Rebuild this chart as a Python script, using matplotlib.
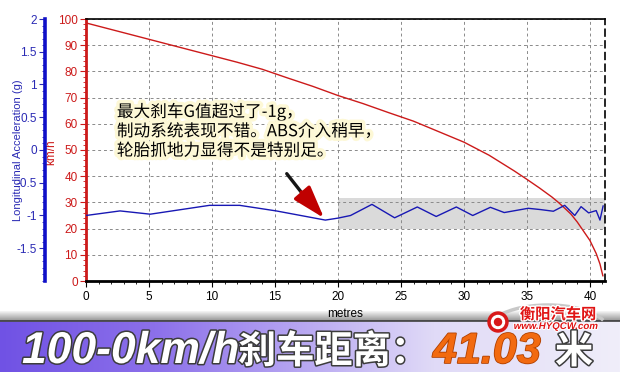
import numpy as np
import matplotlib
matplotlib.use("Agg")
import matplotlib.pyplot as plt
import matplotlib.patheffects as pe
from matplotlib.ticker import AutoMinorLocator, MultipleLocator
from matplotlib.patches import Circle, Arc

# ---------------- data ----------------
speed_dist = [0, 2, 4, 6, 8, 10, 12, 14, 16, 18, 20, 22, 24, 26, 28, 30, 32, 33, 34,
              35, 36, 37, 37.5, 38, 38.5, 39, 39.5, 40, 40.5, 40.8, 41.03]
speed_kmh = [98.5, 96, 93.5, 91, 88.5, 86, 83.5, 80.8, 77.5, 74.3, 70.8, 67.7, 64.3, 61,
             57, 53, 48, 45, 42, 38.8, 35.5, 32, 30, 27.8, 25.5, 22.5, 19, 15.5, 10.5, 6.5, 2]

acc_dist = [0, 2.7, 5.1, 9.8, 12.2, 15.1, 19.0, 20.0, 21.0, 22.7, 24.5, 26.3, 27.8, 29.4,
            30.7, 32.1, 33.2, 35.1, 36.1, 37.1, 38.0, 38.8, 39.3, 39.9, 40.5, 40.8, 41.05]
acc_g = [-1.00, -0.93, -0.98, -0.845, -0.845, -0.93, -1.07, -1.04, -1.00, -0.83, -1.035,
         -0.87, -1.015, -0.87, -1.00, -0.875, -0.955, -0.89, -0.91, -0.935, -0.845, -1.00,
         -0.865, -0.96, -0.925, -1.07, -0.855]

band_x = [20, 41.2]
band_low = 20
band_high = 31.5

x_ticks = [0, 5, 10, 15, 20, 25, 30, 35, 40]
kmh_ticks = [0, 10, 20, 30, 40, 50, 60, 70, 80, 90, 100]
g_ticks = [2, 1.5, 1, 0.5, 0, -0.5, -1, -1.5]
g_labels = ["2", "1.5", "1", "0.5", "0", "-0.5", "-1", "-1.5"]

note_text = "最大刹车G值超过了-1g，\n制动系统表现不错。ABS介入稍早，\n轮胎抓地力显得不是特别足。"
title_a = "100-0km/h"
title_b = "刹车距离："
title_c = "41.03"
title_d = "米"
logo_cn = "衡阳汽车网"
logo_en = "www.HYQCW.com"

RED = "#cc1a1a"
BLUE = "#1818b4"
W, H = 620, 372

plt.rcParams['font.family'] = ['Liberation Sans', 'DejaVu Sans']
fig = plt.figure(figsize=(6.2, 3.72), dpi=100)
fig.patch.set_facecolor("white")

# ---------------- banner ----------------
bax = fig.add_axes([0, 0, 1, 52 / H])
xs = np.linspace(0, 1, 620)
stops_x = [0, 0.25, 0.5, 0.7, 1.0]
stops_c = np.array([[112, 82, 228], [140, 112, 234], [186, 170, 242], [224, 218, 247], [240, 238, 250]]) / 255
grad = np.stack([np.interp(xs, stops_x, stops_c[:, k]) for k in range(3)], axis=-1)[None, :, :]
bax.imshow(grad, aspect="auto", extent=[0, 1, 0, 1])
bax.axhline(1.0, color="#4a4a4a", lw=2.0)
bax.set_xlim(0, 1); bax.set_ylim(0, 1)
bax.axis("off")

sax = fig.add_axes([0, 52 / H, 1, 9 / H])
shade = np.linspace(0.62, 1.0, 20)[:, None] * np.ones((20, 3))
sax.imshow(shade[:, None, :].repeat(2, axis=1), aspect="auto", extent=[0, 1, 0, 1], origin="lower")
sax.axis("off")

outline = [pe.Stroke(linewidth=2.2, foreground="#3c3c3c"), pe.Normal()]
by = (H - 363) / H
fig.text(22 / W, by, title_a, color="white", fontsize=32, fontweight="bold", fontstyle="italic",
         family=["Liberation Sans", "DejaVu Sans"], va="baseline", ha="left", path_effects=outline)
fig.text(238 / W, by, title_b, color="white", fontsize=27.5, fontweight="bold",
         family=["Noto Sans CJK SC", "DejaVu Sans"], va="baseline", ha="left", path_effects=outline)
fig.text(433 / W, by, title_c, color="#f26a10", fontsize=31, fontweight="bold", fontstyle="italic",
         family=["Liberation Sans", "DejaVu Sans"], va="baseline", ha="left",
         path_effects=[pe.Stroke(linewidth=1.2, foreground="#b04000"), pe.Normal()])
fig.text(555 / W, by, title_d, color="white", fontsize=27.5, fontweight="bold",
         family=["Noto Sans CJK SC", "DejaVu Sans"], va="baseline", ha="left", path_effects=outline)

# ---------------- main chart ----------------
ax = fig.add_axes([86 / W, 1 - 281 / H, (605 - 86) / W, (281 - 19) / H])
ax.set_xlim(0, 41.2)
ax.set_ylim(0, 100)
ax.set_axisbelow(True)
ax.grid(True, ls=(0, (3, 3)), color="#8a8a8a", lw=0.7)
ax.fill_between(band_x, band_low, band_high, color="#dadada", lw=0, zorder=0.3)
ax.plot(speed_dist, speed_kmh, color=RED, lw=1.0, zorder=3)

ax.set_xticks(x_ticks)
ax.set_yticks(kmh_ticks)
ax.xaxis.set_minor_locator(MultipleLocator(1))
ax.yaxis.set_minor_locator(AutoMinorLocator(5))
ax.tick_params(axis="x", labelsize=8.5, colors="black", direction="out", length=4, width=0.8, pad=3)
ax.tick_params(axis="x", which="minor", direction="out", length=2, width=0.6)
ax.tick_params(axis="y", labelsize=8.5, colors=RED, direction="out", length=4, width=0.8, pad=2)
ax.tick_params(axis="y", which="minor", colors=RED, direction="out", length=2, width=0.6)
ax.spines["left"].set_color(RED)
ax.spines["left"].set_linewidth(2.0)
ax.spines["bottom"].set_color("black")
ax.spines["bottom"].set_linewidth(2.0)
ax.spines["top"].set_color("black")
ax.spines["top"].set_linewidth(1.2)
ax.spines["right"].set_color("black")
ax.spines["right"].set_linestyle((0, (4, 3)))
ax.spines["right"].set_linewidth(1.2)
ax.set_xlabel("metres", fontsize=8.5, labelpad=4)
ax.set_ylabel("km/h", color=RED, fontsize=8.5)
ax.yaxis.set_label_coords(-0.056, 0.49)

# annotation note and arrow
ax.text(2.45, 68.0, note_text, fontsize=12, color="black", va="top", ha="left", linespacing=1.18,
        family=["Noto Sans CJK SC", "DejaVu Sans"], zorder=6,
        path_effects=[pe.withStroke(linewidth=5, foreground="#fdf8d6")])
ax.annotate("", xy=(17.4, 32.0), xytext=(15.8, 41.8),
            arrowprops=dict(arrowstyle="-", color="#151515", lw=2.4), zorder=6)
ax.annotate("", xy=(18.9, 24.0), xytext=(17.1, 34.0),
            arrowprops=dict(arrowstyle="-|>,head_length=1.0,head_width=0.32", mutation_scale=20,
                            color="#c00000", lw=2.4, shrinkA=0, shrinkB=0), zorder=6)

# acceleration axis
ax2 = ax.twinx()
ax2.set_ylim(-2, 2)
ax2.plot(acc_dist, acc_g, color=BLUE, lw=1.0, zorder=4)
ax2.spines["right"].set_visible(False)
ax2.spines["top"].set_visible(False)
ax2.spines["bottom"].set_visible(False)
ax2.spines["left"].set_visible(True)
ax2.spines["left"].set_position(("outward", 41 * 0.72))
ax2.spines["left"].set_color("#1010c8")
ax2.spines["left"].set_linewidth(2.6)
ax2.yaxis.tick_left()
ax2.yaxis.set_label_position("left")
ax2.set_yticks(g_ticks)
ax2.set_yticklabels(g_labels)
ax2.yaxis.set_minor_locator(AutoMinorLocator(5))
ax2.tick_params(axis="y", labelsize=8.5, colors="#2a2ab4", direction="out", length=4, width=0.8, pad=2)
ax2.tick_params(axis="y", which="minor", colors="#2a2ab4", direction="out", length=2, width=0.6)
ax2.set_ylabel("Longitudinal Acceleration (g)", color="#2a2ab4", fontsize=8)
ax2.yaxis.set_label_coords(-0.121, 0.5)

# ---------------- logo ----------------
lax = fig.add_axes([0, 0, 1, 1], facecolor="none")
lax.set_xlim(0, W); lax.set_ylim(H, 0)
lax.axis("off")
lax.add_patch(Arc((548, 330), 120, 50, theta1=190, theta2=350, color="#c8c8c8", lw=2.5))
lax.add_patch(Circle((498, 322), 10, color="#d81818"))
lax.add_patch(Circle((498, 322), 6.5, color="white"))
lax.add_patch(Circle((498, 322), 3.5, color="#d81818"))
lax.text(558, 314, logo_cn, color="#e01414", fontsize=11, fontweight="bold", ha="center", va="center",
         family=["Noto Sans CJK SC", "DejaVu Sans"],
         path_effects=[pe.withStroke(linewidth=2, foreground="white")])
lax.text(556, 326, logo_en, color="#e01414", fontsize=7, fontweight="bold", fontstyle="italic",
         ha="center", va="center", family=["Liberation Sans", "DejaVu Sans"],
         path_effects=[pe.withStroke(linewidth=1.5, foreground="white")])

fig.savefig("out.png", dpi=100)
